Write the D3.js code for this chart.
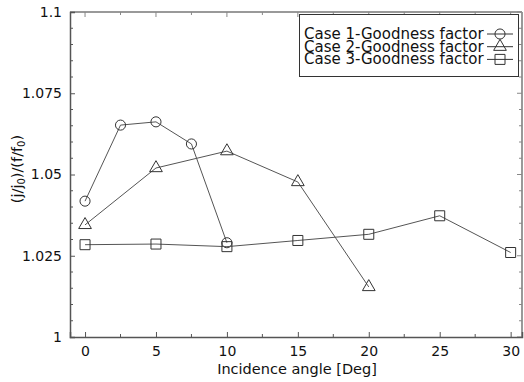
<!DOCTYPE html>
<html>
<head>
<meta charset="utf-8">
<script src="https://cdn.jsdelivr.net/npm/d3@7"></script>
<style>
  body { margin: 0; background: #fff; }
  svg text { font-family: "DejaVu Sans", sans-serif; fill: #111; }
</style>
</head>
<body>
<div id="chart"></div>
<script>
// incidence angles and goodness factors for each case
const case1X = [0, 2.5, 5, 7.5, 10];
const case1Y = [1.0418, 1.0652, 1.0662, 1.0594, 1.029];
const case2X = [0, 5, 10, 15, 20];
const case2Y = [1.0345, 1.052, 1.0572, 1.0477, 1.0154];
const case3X = [0, 5, 10, 15, 20, 25, 30];
const case3Y = [1.0284, 1.0286, 1.0278, 1.0297, 1.0316, 1.0373, 1.026];
const seriesNames = ["Case 1-Goodness factor", "Case 2-Goodness factor", "Case 3-Goodness factor"];
const xTicks = [0, 5, 10, 15, 20, 25, 30];
const yTicks = [1, 1.025, 1.05, 1.075, 1.1];

const width = 524, height = 382;
const margin = { top: 12, right: 2, bottom: 45, left: 70 };

const svg = d3.select("#chart").append("svg")
  .attr("width", width)
  .attr("height", height);

const x = d3.scaleLinear().domain([-1.06, 30.8]).range([margin.left, width - margin.right]);
const y = d3.scaleLinear().domain([1, 1.1]).range([height - margin.bottom, margin.top]);

const x0 = margin.left, x1 = width - margin.right;
const y0 = height - margin.bottom, y1 = margin.top;

// frame: top/right lighter
svg.append("line").attr("x1", x0).attr("x2", x1).attr("y1", y1).attr("y2", y1)
  .attr("stroke", "#999").attr("stroke-width", 2);
svg.append("line").attr("x1", x1).attr("x2", x1).attr("y1", y1).attr("y2", y0)
  .attr("stroke", "#999").attr("stroke-width", 2);

const minorX = d3.range(0, 31, 2.5).filter(v => v % 5 !== 0);
const minorY = d3.range(1, 1.1001, 0.005).filter(v => Math.abs(v * 40 - Math.round(v * 40)) > 1e-6);

// inner ticks on top and right
svg.append("g").selectAll("line").data(xTicks.concat(minorX)).join("line")
  .attr("x1", d => x(d)).attr("x2", d => x(d))
  .attr("y1", y1).attr("y2", d => y1 + (xTicks.includes(d) ? 5 : 3))
  .attr("stroke", "#888");
svg.append("g").selectAll("line").data(yTicks.concat(minorY)).join("line")
  .attr("y1", d => y(d)).attr("y2", d => y(d))
  .attr("x1", x1).attr("x2", d => x1 - (yTicks.includes(d) ? 5 : 3))
  .attr("stroke", "#888");

// bottom axis
const gx = svg.append("g").attr("transform", `translate(0,${y0})`)
  .call(d3.axisBottom(x).tickValues(xTicks).tickSize(-5).tickFormat(d3.format("d")));
gx.append("g").selectAll("line").data(minorX).join("line")
  .attr("x1", d => x(d)).attr("x2", d => x(d)).attr("y1", 0).attr("y2", -3)
  .attr("stroke", "#555");
gx.select(".domain").attr("stroke", "#555").attr("stroke-width", 1.5);
gx.selectAll(".tick line").attr("stroke", "#555");
gx.selectAll("text").attr("font-size", 14).attr("y", 19).attr("dy", 0)
  .style("font-family", "DejaVu Sans");

// left axis
const fmt = d => d === 1 ? "1" : d === 1.1 ? "1.1" : d3.format(".3~f")(d);
const gy = svg.append("g").attr("transform", `translate(${x0},0)`)
  .call(d3.axisLeft(y).tickValues(yTicks).tickSize(-5).tickPadding(8).tickFormat(fmt));
gy.append("g").selectAll("line").data(minorY).join("line")
  .attr("y1", d => y(d)).attr("y2", d => y(d)).attr("x1", 0).attr("x2", 3)
  .attr("stroke", "#555");
gy.select(".domain").attr("stroke", "#555").attr("stroke-width", 1.5);
gy.selectAll(".tick line").attr("stroke", "#555");
gy.selectAll("text").attr("font-size", 14).style("font-family", "DejaVu Sans");

// axis titles
svg.append("text")
  .attr("x", 297).attr("y", 374)
  .attr("text-anchor", "middle").attr("font-size", 14.5)
  .text("Incidence angle [Deg]");

const yl = svg.append("text")
  .attr("transform", "translate(22,169) rotate(-90)")
  .attr("text-anchor", "middle").attr("font-size", 14.5);
yl.append("tspan").text("(j/j");
yl.append("tspan").attr("font-size", 10).attr("dy", 3).text("0");
yl.append("tspan").attr("dy", -3).text(")/(f/f");
yl.append("tspan").attr("font-size", 10).attr("dy", 3).text("0");
yl.append("tspan").attr("dy", -3).text(")");

// series
const series = [
  { xs: case1X, ys: case1Y, sym: d3.symbolCircle, size: 80 },
  { xs: case2X, ys: case2Y, sym: d3.symbolTriangle, size: 70 },
  { xs: case3X, ys: case3Y, sym: d3.symbolSquare, size: 100 }
];

const line = d3.line().x(d => x(d[0])).y(d => y(d[1]));

series.forEach(s => {
  const pts = s.xs.map((v, i) => [v, s.ys[i]]);
  svg.append("path").datum(pts).attr("d", line)
    .attr("fill", "none").attr("stroke", "#555").attr("stroke-width", 1);
  svg.append("g").selectAll("path").data(pts).join("path")
    .attr("transform", d => `translate(${x(d[0])},${y(d[1])})`)
    .attr("d", d3.symbol(s.sym, s.size))
    .attr("fill", "none").attr("stroke", "#333").attr("stroke-width", 1);
});

// legend
const lg = svg.append("g");
lg.append("rect").attr("x", 299.5).attr("y", 14.5).attr("width", 219).attr("height", 62)
  .attr("fill", "#fff").attr("stroke", "#333").attr("stroke-width", 1);
series.forEach((s, i) => {
  const cy = 34 + i * 12.7;
  lg.append("text").attr("x", 304).attr("y", cy + 5).attr("font-size", 15)
    .text(seriesNames[i]);
  lg.append("line").attr("x1", 487).attr("x2", 513).attr("y1", cy).attr("y2", cy)
    .attr("stroke", "#333");
  lg.append("path").attr("transform", `translate(500,${cy})`)
    .attr("d", d3.symbol(s.sym, s.size))
    .attr("fill", "none").attr("stroke", "#333");
});
</script>
</body>
</html>
